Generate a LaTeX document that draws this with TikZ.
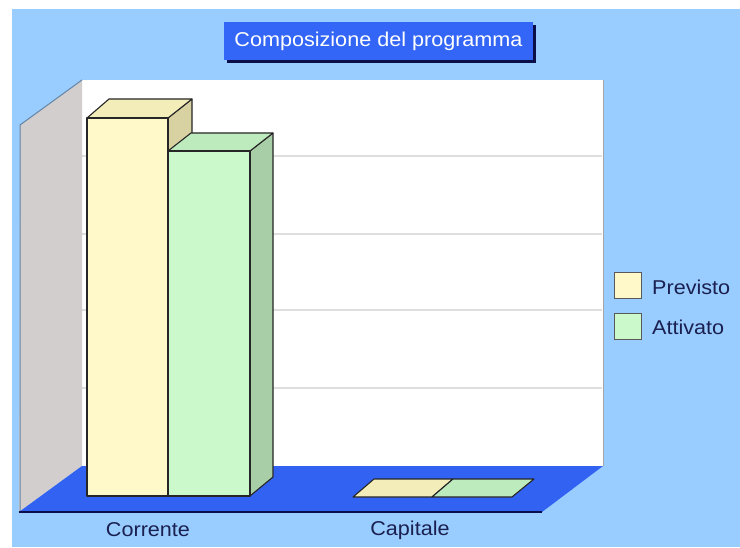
\documentclass[tikz,border=0pt]{standalone}
\usepackage{fontspec}
\newfontfamily\chartfont[FakeStretch=1.08]{Liberation Sans}
\definecolor{bgblue}{HTML}{99CCFF}
\definecolor{floorblue}{HTML}{3262F2}
\definecolor{titleblue}{HTML}{3366F6}
\definecolor{navy}{HTML}{0A0F4A}
\definecolor{labelc}{HTML}{1A2050}
\definecolor{sidegrey}{HTML}{D2CECE}
\definecolor{gridc}{HTML}{DEDEDE}
\definecolor{yfront}{HTML}{FFF9CA}
\definecolor{ytop}{HTML}{F3EDBA}
\definecolor{yside}{HTML}{D8D2A2}
\definecolor{gfront}{HTML}{CCF9CC}
\definecolor{gtop}{HTML}{BEEBBE}
\definecolor{gside}{HTML}{A8CEA8}
\tikzset{
  barline/.style={draw=black!85, line width=1.1pt, line join=round},
  gridline/.style={draw=gridc, line width=1.2pt},
  axislabel/.style={font=\chartfont\fontsize{20}{24}\selectfont, text=labelc, inner sep=0pt},
  legendlabel/.style={font=\chartfont\fontsize{20}{24}\selectfont, text=labelc, inner sep=0pt, anchor=west},
  legendbox/.style={draw=black!65, line width=1pt, minimum width=27pt, minimum height=26pt, inner sep=0pt},
}
\begin{document}
\begin{tikzpicture}[x=1pt,y=-1pt]
\useasboundingbox (0,0) rectangle (740,548);
\fill[white] (0,0) rectangle (740,548);
\fill[bgblue] (12,9) rectangle (740,547);
% back wall
\fill[white] (82,80) rectangle (603,466);
\draw[black!35, line width=1pt] (603,80) -- (603,466);
\foreach \gy in {156,234,310,388} \draw[gridline] (82,\gy) -- (602,\gy);
% side wall
\fill[sidegrey] (20,125) -- (82,80) -- (82,466) -- (19,512) -- cycle;
\draw[black!35!bgblue, line width=1pt] (20,512) -- (20,125) -- (82,80);
% floor
\fill[floorblue] (82,466) -- (603,466) -- (542,512) -- (19,512) -- cycle;
\draw[navy, line width=1.3pt] (19,512) -- (542,512);
% Corrente: Previsto bar
\filldraw[barline, fill=yside] (168,118) -- (192,99) -- (192,477) -- (168,496) -- cycle;
\filldraw[barline, fill=ytop] (87,118) -- (109,99) -- (192,99) -- (168,118) -- cycle;
\filldraw[barline, fill=yfront] (87,118) rectangle (168,496);
% Corrente: Attivato bar
\filldraw[barline, fill=gside] (250,151) -- (273,133) -- (273,477) -- (250,496) -- cycle;
\filldraw[barline, fill=gtop] (168,151) -- (191,133) -- (273,133) -- (250,151) -- cycle;
\filldraw[barline, fill=gfront] (168,151) rectangle (250,496);
% Capitale: flat bars
\filldraw[barline, fill=ytop] (353,497) -- (374,479) -- (453,479) -- (432,497) -- cycle;
\filldraw[barline, fill=gtop] (432,497) -- (453,479) -- (534,479) -- (512,497) -- cycle;
% title
\fill[navy] (227,25) rectangle (536,63);
\node[fill=titleblue, minimum width=309pt, minimum height=38pt, inner sep=0pt,
      font=\chartfont\fontsize{20}{24}\selectfont, text=white] (title) at (378.5,41) {Composizione del programma};
% axis labels
\node[axislabel] (corr) at (148,530) {Corrente};
\node[axislabel] (capi) at (410,530) {Capitale};
% legend
\node[legendbox, fill=yfront] (lbp) at (627.5,286) {};
\node[legendbox, fill=gfront] (lba) at (627.5,326.5) {};
\node[legendlabel] (lp) at (652,287) {Previsto};
\node[legendlabel] (la) at (652,327) {Attivato};
\end{tikzpicture}
\end{document}
